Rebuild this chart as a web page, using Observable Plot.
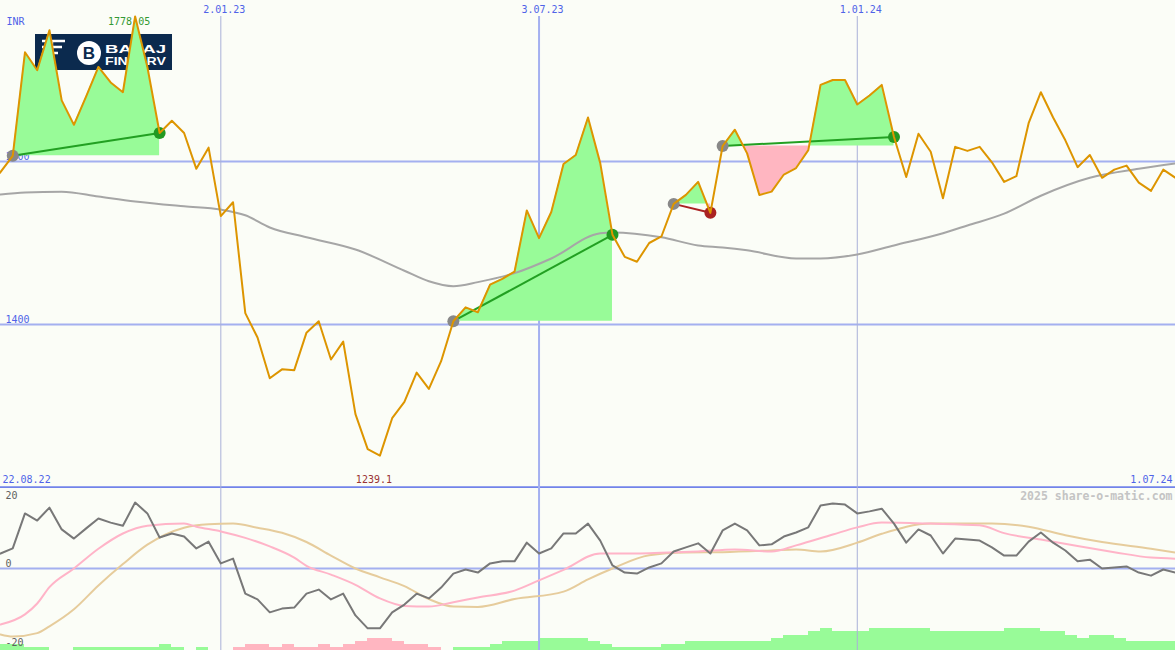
<!DOCTYPE html>
<html><head><meta charset="utf-8">
<script src="https://cdn.jsdelivr.net/npm/d3@7"></script>
<script src="https://cdn.jsdelivr.net/npm/@observablehq/plot@0.6"></script>
<style>
html,body{margin:0;padding:0;background:#fbfdf7;}
#wrap{position:relative;width:1175px;height:650px;overflow:hidden;background:#fbfdf7;}
#wrap > svg{position:absolute;left:0;overflow:hidden;}
</style></head><body><div id="wrap"></div>
<script>
// ---------- data ----------
const currency = "INR";
// weekly closes, first value = 22.08.22
const prices = [1570,1587,1607,1734,1712,1761,1675,1645,1680,1716,1697,1685,1778.05,1716,1635,1650,1635,1591,1617,1533,1550,
  1414,1384,1334,1345,1344,1390,1404,1357,1379,1290,1247,1239.1,1285,1305,1341,1321,1355,1404,1421,1415,1449,1456,1465,
  1540,1506,1538,1597,1608,1654,1598,1510,1483,1477,1500,1508,1548,1559,1575,1537,1619,1639,1610,1559,1563,1584,1592,
  1614,1694,1700,1700,1670,1681,1694,1630,1581,1634,1612,1555,1618,1613,1618,1599,1575,1582,1647,1685,1654,1626,1593,
  1608,1580,1590,1595,1574,1564,1590,1580];
// oscillator (dark grey), same weeks as prices
const oscillator = [3,4.4,5.9,16.2,14.1,17.9,11.5,8.8,11.8,14.7,13.5,12.6,19.4,16.2,9.1,10.3,9.4,5.9,7.9,1.5,2.9,
  -7.4,-9.1,-12.9,-11.8,-11.5,-7.4,-6.2,-9.1,-7.4,-13.8,-17.6,-17.6,-12.9,-10.6,-7.4,-8.8,-5.6,-1.5,-0.3,-1.2,1.5,2.1,2.1,
  7.6,4.4,5.9,10.3,10.3,13.2,8.2,0.9,-1.2,-1.5,0.3,1.5,5.0,6.2,7.4,4.4,11.2,13.2,11.2,6.8,7.1,9.4,10.6,12.1,18.5,19.1,18.8,
  16.2,16.8,17.6,13.2,7.6,11.5,9.7,4.4,8.8,8.5,8.2,6.2,3.8,3.8,7.9,10.6,7.6,5.3,2.1,2.6,0,0.3,0.6,-1.2,-2.1,-0.3,-1.2];
// [week (0 = 29.08.22), value]
const movingAverage = [[0,1559.5],[2,1562],[5,1563],[8,1557],[11,1551],[15,1545],[18,1541],[20,1534],[22,1519],[25,1507],
  [29,1492],[33,1466],[35,1453],[37,1447],[39,1452],[42,1463],[45,1481],[49,1512],[50,1513],[54,1507],[57,1497],[59,1494.5],
  [61,1491],[65,1481],[67,1481],[70,1486],[73,1497],[77,1512],[79,1521.5],[82,1536],[85,1558],[89,1580],[93,1591],[96,1597.5]];
const signalFast = [[0,-16.5],[2,-13.5],[3,-10.3],[4,-5.5],[6,0],[8,5.8],[10,10.3],[12,12.6],[15,13.2],[16,12.3],[18,10.9],
  [20,9.0],[22,6.5],[24,3.2],[25,0.8],[27,-1.8],[29,-4.8],[31,-8.8],[33,-11.0],[35,-11.2],[37,-9.9],[39,-8.5],[42,-6.5],
  [44,-3.5],[46,-0.4],[49,4.4],[52,4.4],[54,4.6],[57,5.0],[60,5.6],[63,5.0],[65,6.8],[68,10.0],[70,12.1],[72,13.5],[76,13.2],
  [80,12.7],[82,10.4],[85,8.5],[88,6.6],[91,4.8],[94,3.2],[96,2.9]];
const signalSlow = [[0,-19.4],[1,-20],[3,-19],[4,-17],[6,-12],[8,-5],[10,1.3],[12,7],[15,12],[17,13],[19,13.2],[21,12],
  [23,10.5],[25,7.8],[27,3.8],[29,0],[31,-2.6],[33,-5.2],[35,-9],[37,-11.2],[39,-11.3],[42,-9],[46,-6.8],[48,-3.2],[50,0],
  [53,3.9],[56,4.7],[59,4.8],[63,5.3],[65,5.6],[67,5.0],[70,7.6],[72,10.2],[76,13.2],[81,13.2],[84,12.3],[87,9.8],[90,7.8],
  [94,5.8],[96,4.7]];
// weekly histogram levels (week 0 = 29.08.22); + green, - pink
const histogram = [2,2,1,1,0,0,1,1,1,1,1,1,1,2,1,0,1,0,0,-1,-2,-2,-1,-2,-1,-1,-2,-1,-2,-3,-4,-4,-3,-2,-2,-1,0,1,1,1,2,3,3,3,
  4,4,4,4,3,2,1,1,1,1,2,2,3,3,3,3,3,3,3,4,5,5,6,7,6,6,6,7,7,7,7,7,6,6,6,6,6,6,7,7,7,6,6,5,4,5,5,4,3,3,3,3];
// trades: [entry week, exit week]
const trades = [[1,13],[37,50],[55,58],[59,73]];
const minorTicks = ["2023-01-02","2024-01-01"];
const majorTicks = ["2023-07-03"];
const priceGrid = [1400,1600];
const priceBase = [1200];
const oscTop = [20,0];
const oscBottom = [-20];
const watermark = "2025 share-o-matic.com";
const logoWords = ["BAJAJ","FINSERV"];

// ---------- helpers ----------
const origin = new Date(Date.UTC(2022,7,29));
const week = i => d3.utcDay.offset(origin, 7*i);
const pAt = i => prices[i+1];
const fmt = d3.utcFormat("%-d.%m.%y");
const xDomain = [week(0), week(96)];
const font = "DejaVu Sans Mono";
const blueTxt = "#4f63e8";
const green = "#229922", red = "#aa2222";
const T = {fontFamily:font, fontSize:10, lineAnchor:"middle"};

const fills = [];
trades.forEach(([a,b],t) => {
  const base = pAt(a);
  for (let i=a;i<=b;i++){
    fills.push({t, x: week(i), p: pAt(i), base});
    if (i<b){
      const p0=pAt(i), p1=pAt(i+1);
      if ((p0-base)*(p1-base)<0){
        const f=(base-p0)/(p1-p0);
        fills.push({t, x: new Date(+week(i)+f*(week(i+1)-week(i))), p: base, base});
      }
    }
  }
});
const win = d => pAt(d[1]) >= pAt(d[0]);
let maxI = 0, minI = 0;
prices.forEach((p,k)=>{ if(p>prices[maxI]) maxI=k; if(p<prices[minI]) minI=k; });

const wrap = d3.select("#wrap");

// ---------- logo (under the chart) ----------
const logo = wrap.append("svg").attr("width",137).attr("height",36).style("left","35px").style("top","34px");
logo.append("rect").attr("width",137).attr("height",36).attr("fill","#0b2a4e");
logo.append("path").attr("d","M7 7H30M7 13H27M10 19H23M17 7V27").attr("stroke","#fff").attr("stroke-width",2.4).attr("fill","none");
logo.append("circle").attr("cx",54).attr("cy",19).attr("r",12).attr("fill","#fff");
logo.append("text").attr("x",54).attr("y",25).attr("text-anchor","middle").attr("fill","#0b2a4e")
  .attr("font-family","Liberation Sans").attr("font-weight","bold").attr("font-size",17).text("B");
logoWords.forEach((w,k) => {
  logo.append("text").attr("x",70).attr("y",18.5 + 12.5*k).attr("fill","#fff").attr("font-family","Liberation Sans")
    .attr("font-weight","bold").attr("font-size",11.5).attr("textLength",61).attr("lengthAdjust","spacingAndGlyphs").text(w);
});

// ---------- main chart ----------
const main = Plot.plot({
  width:1175, height:488, margin:0,
  x:{type:"utc", domain:xDomain, axis:null},
  y:{domain:[1198.77,1797.55], axis:null},
  style:{background:"transparent", fontFamily:font, fontSize:"10px"},
  marks:[
    Plot.ruleY(priceGrid, {stroke:"#a4b0f0", strokeWidth:2}),
    Plot.ruleY(priceBase, {stroke:"#7283ea", strokeWidth:2.5}),
    Plot.ruleX(minorTicks, {x:d=>new Date(d), stroke:"#aab0d8", strokeWidth:1, insetTop:16}),
    Plot.ruleX(majorTicks, {x:d=>new Date(d), stroke:"#a4b0f0", strokeWidth:2, insetTop:16}),
    Plot.text(minorTicks.concat(majorTicks), {...T, x:d=>new Date(d), text:d=>fmt(new Date(d)), frameAnchor:"top", dy:9, dx:3.5, fill:blueTxt}),
    Plot.text([currency], {...T, text:d=>d, frameAnchor:"top-left", dx:6, dy:21, textAnchor:"start", fill:blueTxt}),
    Plot.text(priceGrid, {...T, y:d=>d, text:d=>String(d), frameAnchor:"left", dx:5, dy:-5, textAnchor:"start", fill:blueTxt}),
    Plot.text([maxI], {...T, x:k=>week(k-1), text:k=>String(prices[k]), frameAnchor:"top", dy:21, dx:-6, fill:"#339933"}),
    Plot.text([minI], {...T, x:k=>week(k-1), text:k=>String(prices[k]), frameAnchor:"bottom", dy:-9, dx:-6, fill:"#993333"}),
    Plot.text([week(-1)], {...T, text:d=>fmt(d), frameAnchor:"bottom-left", dx:2, dy:-9, textAnchor:"start", fill:blueTxt}),
    Plot.text([week(96)], {...T, text:d=>fmt(d), frameAnchor:"bottom-right", dx:-3, dy:-9, textAnchor:"end", fill:blueTxt}),
    Plot.areaY(fills, {x:"x", y1:"base", y2:d=>Math.max(d.p,d.base), z:"t", fill:"#98fb98"}),
    Plot.areaY(fills, {x:"x", y1:"base", y2:d=>Math.min(d.p,d.base), z:"t", fill:"#ffb6c1"}),
    Plot.line(movingAverage, {x:d=>week(d[0]), y:d=>d[1], stroke:"#a6a6a6", strokeWidth:2, curve:"monotone-x"}),
    Plot.link(trades, {x1:d=>week(d[0]), y1:d=>pAt(d[0]), x2:d=>week(d[1]), y2:d=>pAt(d[1]), stroke:d=>win(d)?"#22a022":red, strokeWidth:2}),
    Plot.dot(trades, {x:d=>week(d[0]), y:d=>pAt(d[0]), r:6, fill:"#888888"}),
    Plot.dot(trades, {x:d=>week(d[1]), y:d=>pAt(d[1]), r:6, fill:d=>win(d)?green:red}),
    Plot.line(prices, {x:(d,k)=>week(k-1), y:d=>d, stroke:"#dd9500", strokeWidth:2})
  ]
});
d3.select(main).style("top","0px");
wrap.node().appendChild(main);

// ---------- histogram strip ----------
const bars = Plot.plot({
  width:1175, height:162, margin:0,
  x:{type:"utc", domain:xDomain, axis:null},
  y:{domain:[0,162/3.1], axis:null},
  style:{background:"transparent"},
  marks:[
    Plot.rect(histogram, {filter:d=>d>0, x1:(d,i)=>week(i), x2:(d,i)=>week(i+1), y1:0, y2:d=>Math.abs(d), fill:"#98fb98", shapeRendering:"crispEdges"}),
    Plot.rect(histogram, {filter:d=>d<0, x1:(d,i)=>week(i), x2:(d,i)=>week(i+1), y1:0, y2:d=>Math.abs(d), fill:"#ffb6c1", shapeRendering:"crispEdges"})
  ]
});
d3.select(bars).style("top","488px");
wrap.node().appendChild(bars);

// ---------- oscillator panel ----------
const lower = Plot.plot({
  width:1175, height:162, margin:0,
  x:{type:"utc", domain:xDomain, axis:null},
  y:{domain:[-24.12,23.53], axis:null},
  style:{background:"transparent", fontFamily:font, fontSize:"10px"},
  marks:[
    Plot.ruleY([0], {stroke:"#a4b0f0", strokeWidth:2}),
    Plot.ruleX(minorTicks, {x:d=>new Date(d), stroke:"#aab0d8", strokeWidth:1}),
    Plot.ruleX(majorTicks, {x:d=>new Date(d), stroke:"#a4b0f0", strokeWidth:2}),
    Plot.line(signalSlow, {x:d=>week(d[0]), y:d=>d[1], stroke:"#e6cc9c", strokeWidth:2, curve:"monotone-x"}),
    Plot.line(signalFast, {x:d=>week(d[0]), y:d=>d[1], stroke:"#ffb4c8", strokeWidth:2, curve:"monotone-x"}),
    Plot.line(oscillator, {x:(d,k)=>week(k-1), y:d=>d, stroke:"#787878", strokeWidth:2}),
    Plot.text(oscTop, {...T, y:d=>d, text:d=>String(d), frameAnchor:"left", dx:5, dy:-5, textAnchor:"start", fill:"#606060"}),
    Plot.text(oscBottom, {...T, y:d=>d, text:d=>String(d), frameAnchor:"left", dx:5, dy:6, textAnchor:"start", fill:"#606060"}),
    Plot.text([watermark], {...T, text:d=>d, frameAnchor:"top-right", dx:-3, dy:8, textAnchor:"end", fill:"#c4c4c4", fontWeight:"bold", fontSize:11.5})
  ]
});
d3.select(lower).style("top","488px");
wrap.node().appendChild(lower);
</script></body></html>
